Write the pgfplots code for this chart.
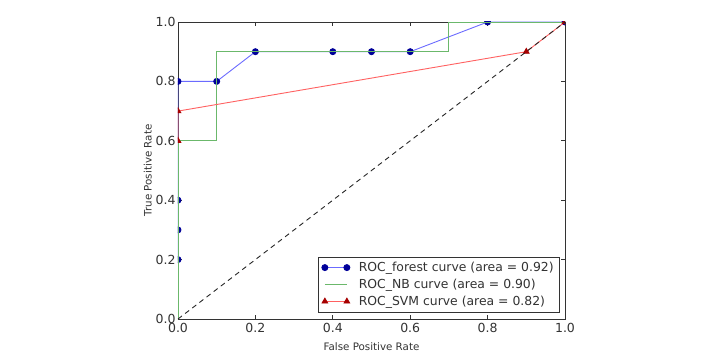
\documentclass[border=0pt]{standalone}
\usepackage{fontspec}
\setmainfont{DejaVu Sans}
\usepackage{pgfplots}
\pgfplotsset{compat=1.18}
\definecolor{fline}{rgb}{0.42,0.42,1.0}
\definecolor{fmark}{rgb}{0.0,0.0,0.6}
\definecolor{nbline}{rgb}{0.42,0.72,0.42}
\definecolor{sline}{rgb}{1.0,0.38,0.38}
\definecolor{smark}{rgb}{0.65,0.0,0.0}
\definecolor{txt}{rgb}{0.2,0.2,0.2}
\begin{document}
\begin{tikzpicture}[x=1pt,y=1pt]
\begin{axis}[
  at={(0pt,0pt)}, anchor=origin,
  scale only axis, width=387pt, height=297pt,
  xmin=0, xmax=1, ymin=0, ymax=1,
  xtick={0,0.2,0.4,0.6,0.8,1.0},
  ytick={0,0.2,0.4,0.6,0.8,1.0},
  xticklabels={0.0,0.2,0.4,0.6,0.8,1.0},
  yticklabels={0.0,0.2,0.4,0.6,0.8,1.0},
  /pgf/number format/assume math mode=true,
  tick label style={font=\fontsize{12.5}{14}\selectfont, text=txt},
  xticklabel style={yshift=-1pt},
  yticklabel style={xshift=1pt},
  label style={font=\fontsize{10.3}{12}\selectfont, text=txt},
  xlabel={False Positive Rate},
  ylabel={True Positive Rate},
  xlabel style={yshift=-3pt},
  ylabel style={yshift=-3pt},
  axis line style={black!80, line width=0.8pt},
  tick style={black!80, line width=0.6pt},
  major tick length=4pt,
  tick align=inside,
  clip marker paths=true,
  legend cell align=left,
  legend style={at={(0.987,0.023)}, anchor=south east,
    font=\fontsize{12.4}{14}\selectfont, draw=black!80, line width=0.6pt,
    row sep=2pt, inner xsep=4pt, inner ysep=3pt, text=txt,
    /tikz/every odd column/.append style={column sep=7pt}},
  legend image code/.code={\draw[#1] plot coordinates {(0pt,0pt) (22pt,0pt)};},
]
\addplot[color=fline, line width=0.9pt, mark=*, mark size=3pt,
  mark options={draw=fmark, fill=fmark, solid}]
  coordinates {(0,0.2) (0,0.3) (0,0.4) (0,0.8) (0.1,0.8) (0.2,0.9) (0.4,0.9) (0.5,0.9) (0.6,0.9) (0.8,1.0) (1.0,1.0)};
\addlegendentry{ROC\_forest curve (area = 0.92)}
\addplot[color=nbline, line width=0.9pt, mark=none]
  coordinates {(0,0) (0,0.6) (0.1,0.6) (0.1,0.9) (0.7,0.9) (0.7,1.0) (1.0,1.0)};
\addlegendentry{ROC\_NB curve (area = 0.90)}
\addplot[color=sline, line width=0.9pt, mark=triangle*, mark size=3.2pt,
  mark options={draw=smark, fill=smark, solid}]
  coordinates {(0,0.6) (0,0.7) (0.9,0.9) (1.0,1.0)};
\addlegendentry{ROC\_SVM curve (area = 0.82)}
\addplot[black!85, dashed, dash pattern=on 5pt off 4pt, line width=0.9pt, forget plot]
  coordinates {(0,0) (1,1)};
\end{axis}
\path[use as bounding box] (-178pt,-33pt) rectangle (540pt,319pt);
\end{tikzpicture}
\end{document}
